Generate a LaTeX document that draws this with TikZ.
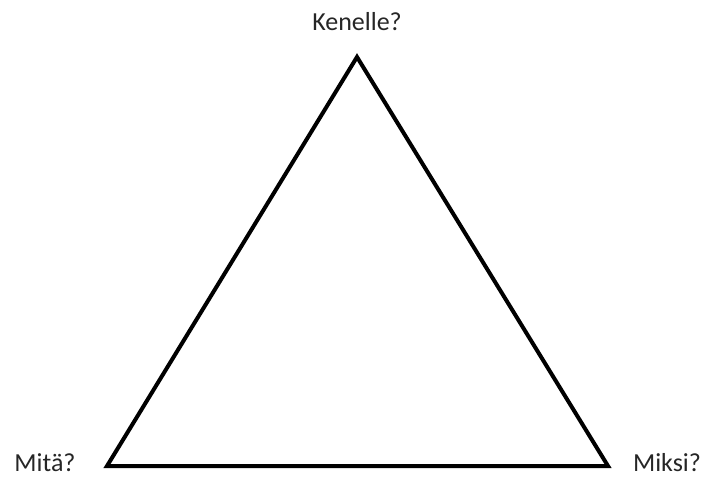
\documentclass[tikz,border=0pt]{standalone}
\usepackage{fontspec}
\setmainfont{Carlito}
\begin{document}
\begin{tikzpicture}[x=1pt,y=-1pt,
  lbl/.style={inner sep=0pt,font=\fontsize{26}{29}\selectfont,text=black!85},
  edge/.style={line width=4pt,line join=miter}]
\useasboundingbox (0,0) rectangle (707,479);
\coordinate (top) at (357,57);
\coordinate (bl) at (107,466);
\coordinate (br) at (608,466);
\draw[edge] (top) -- (bl) -- (br) -- cycle;
\node[lbl] (ken) at (357,22) {Kenelle?};
\node[lbl] (mita) at (45,463) {Mitä?};
\node[lbl] (miksi) at (667,463) {Miksi?};
\end{tikzpicture}
\end{document}
